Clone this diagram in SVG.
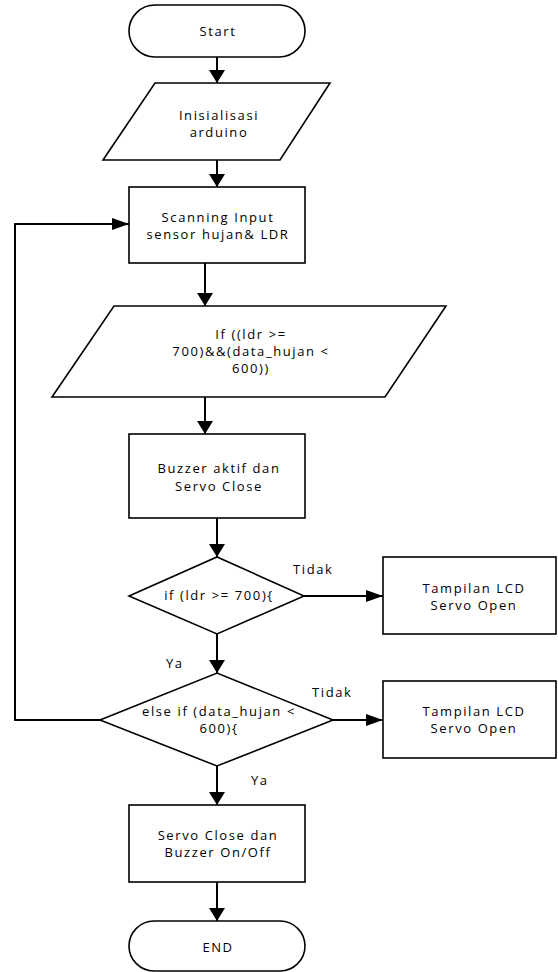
<svg xmlns="http://www.w3.org/2000/svg" width="558" height="972" viewBox="0 0 558 972">
  <style>
    .shape { fill: #ffffff; stroke: #000000; stroke-width: 1.6; }
    .conn { fill: none; stroke: #000000; stroke-width: 2; }
    text { font-family: "Open Sans", "Liberation Sans", sans-serif; font-size: 13px; letter-spacing: 1.6px; fill: #000000; }
    .c { text-anchor: middle; }
  </style>
  <defs>
    <marker id="av" markerUnits="userSpaceOnUse" markerWidth="13" markerHeight="16" refX="13" refY="8" orient="auto">
      <path d="M0,0 L13,8 L0,16 z" fill="#000000"/>
    </marker>
    <marker id="ah" markerUnits="userSpaceOnUse" markerWidth="17" markerHeight="12" refX="17" refY="6" orient="auto">
      <path d="M0,0 L17,6 L0,12 z" fill="#000000"/>
    </marker>
  </defs>

  <!-- connectors -->
  <g id="connectors">
    <path class="conn" d="M217,57 V83" marker-end="url(#av)"/>
    <path class="conn" d="M217,160 V187" marker-end="url(#av)"/>
    <path class="conn" d="M205,263 V306" marker-end="url(#av)"/>
    <path class="conn" d="M205,397 V434" marker-end="url(#av)"/>
    <path class="conn" d="M217,518 V557" marker-end="url(#av)"/>
    <path class="conn" d="M304,596 H383" marker-end="url(#ah)"/>
    <path class="conn" d="M217,634 V673" marker-end="url(#av)"/>
    <path class="conn" d="M333,720 H383" marker-end="url(#ah)"/>
    <path class="conn" d="M100,720 H15 V224 H129" marker-end="url(#ah)"/>
    <path class="conn" d="M217,766 V805" marker-end="url(#av)"/>
    <path class="conn" d="M217,882 V921" marker-end="url(#av)"/>
    <text x="293" y="574">Tidak</text>
    <text x="166" y="668">Ya</text>
    <text x="312" y="697">Tidak</text>
    <text x="251" y="785">Ya</text>
  </g>

  <g id="start">
    <rect class="shape" x="129" y="5" width="176" height="52" rx="26" ry="26"/>
    <text class="c" x="218" y="36">Start</text>
  </g>

  <g id="init">
    <polygon class="shape" points="155,83 330,83 280,160 103,160"/>
    <text class="c" x="219" y="120">Inisialisasi</text>
    <text class="c" x="219" y="137">arduino</text>
  </g>

  <g id="scan">
    <rect class="shape" x="129" y="187" width="176" height="76"/>
    <text class="c" x="218" y="222">Scanning Input</text>
    <text class="c" x="218" y="239">sensor hujan&amp; LDR</text>
  </g>

  <g id="check">
    <polygon class="shape" points="114,306 446,306 385,397 52,397"/>
    <text class="c" x="251" y="339">If ((ldr &gt;=</text>
    <text class="c" x="251" y="356">700)&amp;&amp;(data_hujan &lt;</text>
    <text class="c" x="251" y="373">600))</text>
  </g>

  <g id="buzzer">
    <rect class="shape" x="129" y="434" width="176" height="84"/>
    <text class="c" x="219" y="473">Buzzer aktif dan</text>
    <text class="c" x="219" y="491">Servo Close</text>
  </g>

  <g id="decision-ldr">
    <polygon class="shape" points="129,596 217,557 304,596 217,634"/>
    <text class="c" x="219" y="600">if (ldr &gt;= 700){</text>
  </g>

  <g id="lcd-1">
    <rect class="shape" x="383" y="557" width="173" height="77"/>
    <text class="c" x="474" y="593">Tampilan LCD</text>
    <text class="c" x="474" y="610">Servo Open</text>
  </g>

  <g id="decision-hujan">
    <polygon class="shape" points="100,720 217,673 333,720 217,766"/>
    <text class="c" x="219" y="716">else if (data_hujan &lt;</text>
    <text class="c" x="219" y="733">600){</text>
  </g>

  <g id="lcd-2">
    <rect class="shape" x="383" y="681" width="173" height="77"/>
    <text class="c" x="474" y="716">Tampilan LCD</text>
    <text class="c" x="474" y="733">Servo Open</text>
  </g>

  <g id="servo">
    <rect class="shape" x="129" y="805" width="176" height="77"/>
    <text class="c" x="218" y="840">Servo Close dan</text>
    <text class="c" x="218" y="857">Buzzer On/Off</text>
  </g>

  <g id="end">
    <rect class="shape" x="129" y="921" width="176" height="50" rx="25" ry="25"/>
    <text class="c" x="218" y="952">END</text>
  </g>
</svg>
